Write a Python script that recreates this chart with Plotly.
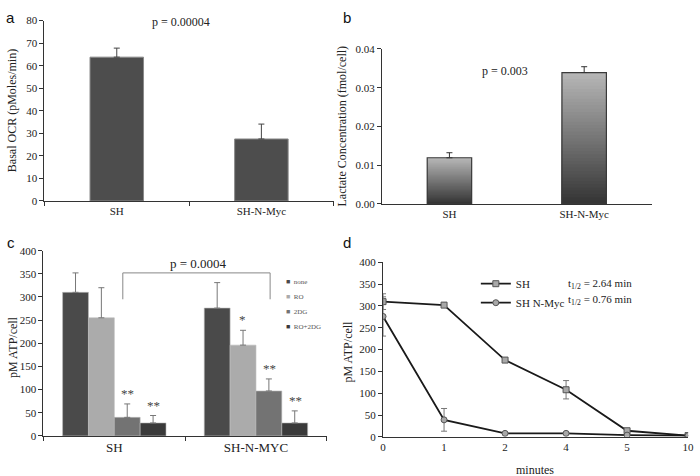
import plotly.graph_objects as go

# ---------------- data ----------------
ocr_cats = ["SH", "SH-N-Myc"]
ocr_vals = [63.8, 27.5]
ocr_err = [4.0, 6.6]

lac_cats = ["SH", "SH-N-Myc"]
lac_vals = [0.0119, 0.0339]
lac_err = [0.0013, 0.0015]

atp_cats = ["SH", "SH-N-MYC"]
atp_conditions = ["none", "RO", "2DG", "RO+2DG"]
atp_vals = {
    "none": [310, 276],
    "RO": [255, 196],
    "2DG": [40, 97],
    "RO+2DG": [28, 28],
}
atp_err = {
    "none": [42, 55],
    "RO": [65, 32],
    "2DG": [29, 26],
    "RO+2DG": [16, 26],
}
atp_stars = {
    "2DG": ["**", "**"],
    "RO+2DG": ["**", "**"],
    "RO": ["", "*"],
}

min_labels = ["0", "1", "2", "4", "5", "10"]
sh_atp = [310, 302, 176, 108, 14, 3]
sh_atp_err = [18, 0, 0, 21, 0, 0]
myc_atp = [276, 39, 8, 8, 4, 3]
myc_atp_err = [45, 26, 0, 0, 0, 0]

# ---------------- style ----------------
SERIF = "Liberation Serif"
SANS = "Liberation Sans"
AXC = "#333333"
W, H = 700, 476


def px(x):
    return x / W


def py(y):
    return 1 - y / H


fig = go.Figure()

# ----- panel a -----
fig.add_trace(go.Bar(
    x=ocr_cats, y=ocr_vals, xaxis="x", yaxis="y",
    marker=dict(color="#4d4d4d", line=dict(color="#8a8a8a", width=1)),
    width=0.37, showlegend=False,
    error_y=dict(type="data", array=ocr_err, arrayminus=[0, 0], symmetric=False,
                 color="#444444", thickness=1, width=3),
))

# ----- panel b (vertical gradient: nested bars from base 0, light -> dark) -----
N = 40
top_rgb = (184, 184, 184)
bot_rgb = (52, 52, 52)
for i in range(N):
    frac = (N - i) / N
    f = (N - i - 0.5) / N
    c = tuple(int(bot_rgb[k] + (top_rgb[k] - bot_rgb[k]) * f) for k in range(3))
    fig.add_trace(go.Bar(
        x=lac_cats,
        y=[v * frac for v in lac_vals],
        xaxis="x2", yaxis="y2", width=0.33, showlegend=False,
        marker=dict(color="rgb(%d,%d,%d)" % c, line=dict(width=0)),
        hoverinfo="skip",
    ))
fig.add_trace(go.Bar(
    x=lac_cats, y=lac_vals, xaxis="x2", yaxis="y2", width=0.33, showlegend=False,
    marker=dict(color="rgba(0,0,0,0)", line=dict(color="#3a3a3a", width=1.2)),
    error_y=dict(type="data", array=lac_err, arrayminus=[0, 0], symmetric=False,
                 color="#333333", thickness=1, width=3),
))
fig.update_layout(barmode="overlay")

# ----- panel c -----
atp_colors = {"none": "#4a4a4a", "RO": "#ababab", "2DG": "#737373", "RO+2DG": "#3a3a3a"}
for cond in atp_conditions:
    fig.add_trace(go.Bar(
        x=atp_cats, y=atp_vals[cond], name=cond, xaxis="x3", yaxis="y3",
        offsetgroup=cond, showlegend=False,
        marker=dict(color=atp_colors[cond], line=dict(color="#bbbbbb", width=0.6)),
        error_y=dict(type="data", array=atp_err[cond], arrayminus=[0, 0], symmetric=False,
                     color="#777777", thickness=1, width=3),
    ))

# ----- panel d -----
fig.add_trace(go.Scatter(
    x=min_labels, y=sh_atp, name="SH", xaxis="x4", yaxis="y4", legend="legend2",
    mode="lines+markers",
    line=dict(color="#1a1a1a", width=1.8),
    marker=dict(symbol="square", size=6, color="#a8a8a8", line=dict(color="#555555", width=1)),
    error_y=dict(type="data", array=sh_atp_err, color="#777777", thickness=1, width=3),
))
fig.add_trace(go.Scatter(
    x=min_labels, y=myc_atp, name="SH N-Myc", xaxis="x4", yaxis="y4", legend="legend2",
    mode="lines+markers",
    line=dict(color="#1a1a1a", width=1.8),
    marker=dict(symbol="circle", size=6, color="#a8a8a8", line=dict(color="#555555", width=1)),
    error_y=dict(type="data", array=myc_atp_err, color="#777777", thickness=1, width=3),
))

tickfont = dict(family=SERIF, size=11, color="#222222")
common_axis = dict(showline=True, linecolor=AXC, linewidth=1, showgrid=False,
                   zeroline=False, ticks="outside", ticklen=4, tickcolor=AXC,
                   tickfont=tickfont)

fig.update_layout(
    width=W, height=H, margin=dict(l=0, r=0, t=0, b=0),
    paper_bgcolor="white", plot_bgcolor="white",
    bargap=0.27,
    font=dict(family=SERIF, color="#222222"),
    xaxis=dict(domain=[px(42), px(335)], anchor="y", type="category",
               tickson="boundaries", **common_axis),
    yaxis=dict(domain=[py(200), py(15)], anchor="x", range=[0, 80], dtick=10, **common_axis),
    xaxis2=dict(domain=[px(384), px(657)], anchor="y2", type="category",
                **{**common_axis, "ticks": ""}),
    yaxis2=dict(domain=[py(203), py(44)], anchor="x2", range=[0, 0.04], dtick=0.01,
                tickformat=".2f", **common_axis),
    xaxis3=dict(domain=[px(41), px(328)], anchor="y3", type="category",
                tickson="boundaries",
                **{**common_axis, "tickfont": dict(family=SERIF, size=13, color="#222222")}),
    yaxis3=dict(domain=[py(441), py(251)], anchor="x3", range=[0, 400], dtick=50, **common_axis),
    xaxis4=dict(domain=[px(385), px(694)], anchor="y4", type="category", range=[0, 5],
                **{**common_axis, "ticks": ""}),
    yaxis4=dict(domain=[py(442), py(263)], anchor="x4", range=[0, 400], dtick=50, **common_axis),
    legend2=dict(x=px(479), y=py(270), xanchor="left", yanchor="top",
                 font=dict(family=SERIF, size=11, color="#222222"),
                 bgcolor="rgba(0,0,0,0)", itemwidth=30, tracegroupgap=0),
)

ann = []
# panel letters
for letter, (xx, yy) in {"a": (8, 12), "b": (348, 12), "c": (8, 243), "d": (348, 243)}.items():
    ann.append(dict(text=letter, x=px(xx), y=py(yy), xref="paper", yref="paper",
                    showarrow=False, font=dict(family=SANS, size=15, color="#111111"),
                    xanchor="center", yanchor="middle"))
# y titles
for text, xx, yy, size in [
    ("Basal OCR (pMoles/min)", 9, 107, 12),
    ("Lactate Concentration (fmol/cell)", 343, 123, 12),
    ("pM ATP/cell", 10, 350, 12),
    ("pM ATP/cell", 350, 355, 12),
]:
    ann.append(dict(text=text, x=px(xx), y=py(yy), xref="paper", yref="paper",
                    textangle=-90, showarrow=False,
                    font=dict(family=SERIF, size=size, color="#222222"),
                    xanchor="center", yanchor="middle"))
# x title d
ann.append(dict(text="minutes", x=px(539), y=py(476), xref="paper", yref="paper",
                showarrow=False, font=dict(family=SERIF, size=12, color="#222222"),
                xanchor="center", yanchor="middle"))
# p values
ann.append(dict(text="p = 0.00004", x=px(180), y=py(16), xref="paper", yref="paper",
                showarrow=False, font=dict(family=SERIF, size=12, color="#222222"),
                xanchor="center", yanchor="middle"))
ann.append(dict(text="p = 0.003", x=px(509), y=py(67), xref="paper", yref="paper",
                showarrow=False, font=dict(family=SERIF, size=12, color="#222222"),
                xanchor="center", yanchor="middle"))
ann.append(dict(text="p = 0.0004", x=px(198), y=py(264), xref="paper", yref="paper",
                showarrow=False, font=dict(family=SERIF, size=13, color="#222222"),
                xanchor="center", yanchor="middle"))
# t1/2 labels
ann.append(dict(text="t<sub>1/2</sub> = 2.64 min", x=px(570), y=py(285), xref="paper",
                yref="paper", showarrow=False, xanchor="left", yanchor="middle",
                font=dict(family=SERIF, size=11, color="#222222")))
ann.append(dict(text="t<sub>1/2</sub> = 0.76 min", x=px(570), y=py(302), xref="paper",
                yref="paper", showarrow=False, xanchor="left", yanchor="middle",
                font=dict(family=SERIF, size=11, color="#222222")))
# panel c key (small squares + labels)
for k, cond in enumerate(atp_conditions):
    ann.append(dict(
        text='<span style="color:%s">■</span>&nbsp;&nbsp;%s' % (atp_colors[cond], cond),
        x=px(285), y=py(283 + 15.6 * k), xref="paper", yref="paper",
        showarrow=False, xanchor="left", yanchor="middle",
        font=dict(family=SERIF, size=7, color="#555555")))
# significance stars
offsets = {"none": -39.4, "RO": -13.1, "2DG": 13.1, "RO+2DG": 39.4}
for cond, stars in atp_stars.items():
    for j, s in enumerate(stars):
        if not s:
            continue
        ann.append(dict(text=s, x=atp_cats[j], y=atp_vals[cond][j] + atp_err[cond][j],
                        xref="x3", yref="y3", xshift=offsets[cond], yshift=1,
                        showarrow=False, xanchor="center", yanchor="bottom",
                        font=dict(family=SERIF, size=13, color="#444444")))
fig.update_layout(annotations=ann)

# bracket in panel c
fig.add_shape(type="path", xref="x3", yref="y3",
              path="M 0.06 295 L 0.06 352 L 1.1 352 L 1.1 295",
              line=dict(color="#888888", width=1))

fig.write_html(
    "out.html",
    config={"displayModeBar": False},
    post_script="document.body.style.margin='0';document.body.style.overflow='hidden';",
)
